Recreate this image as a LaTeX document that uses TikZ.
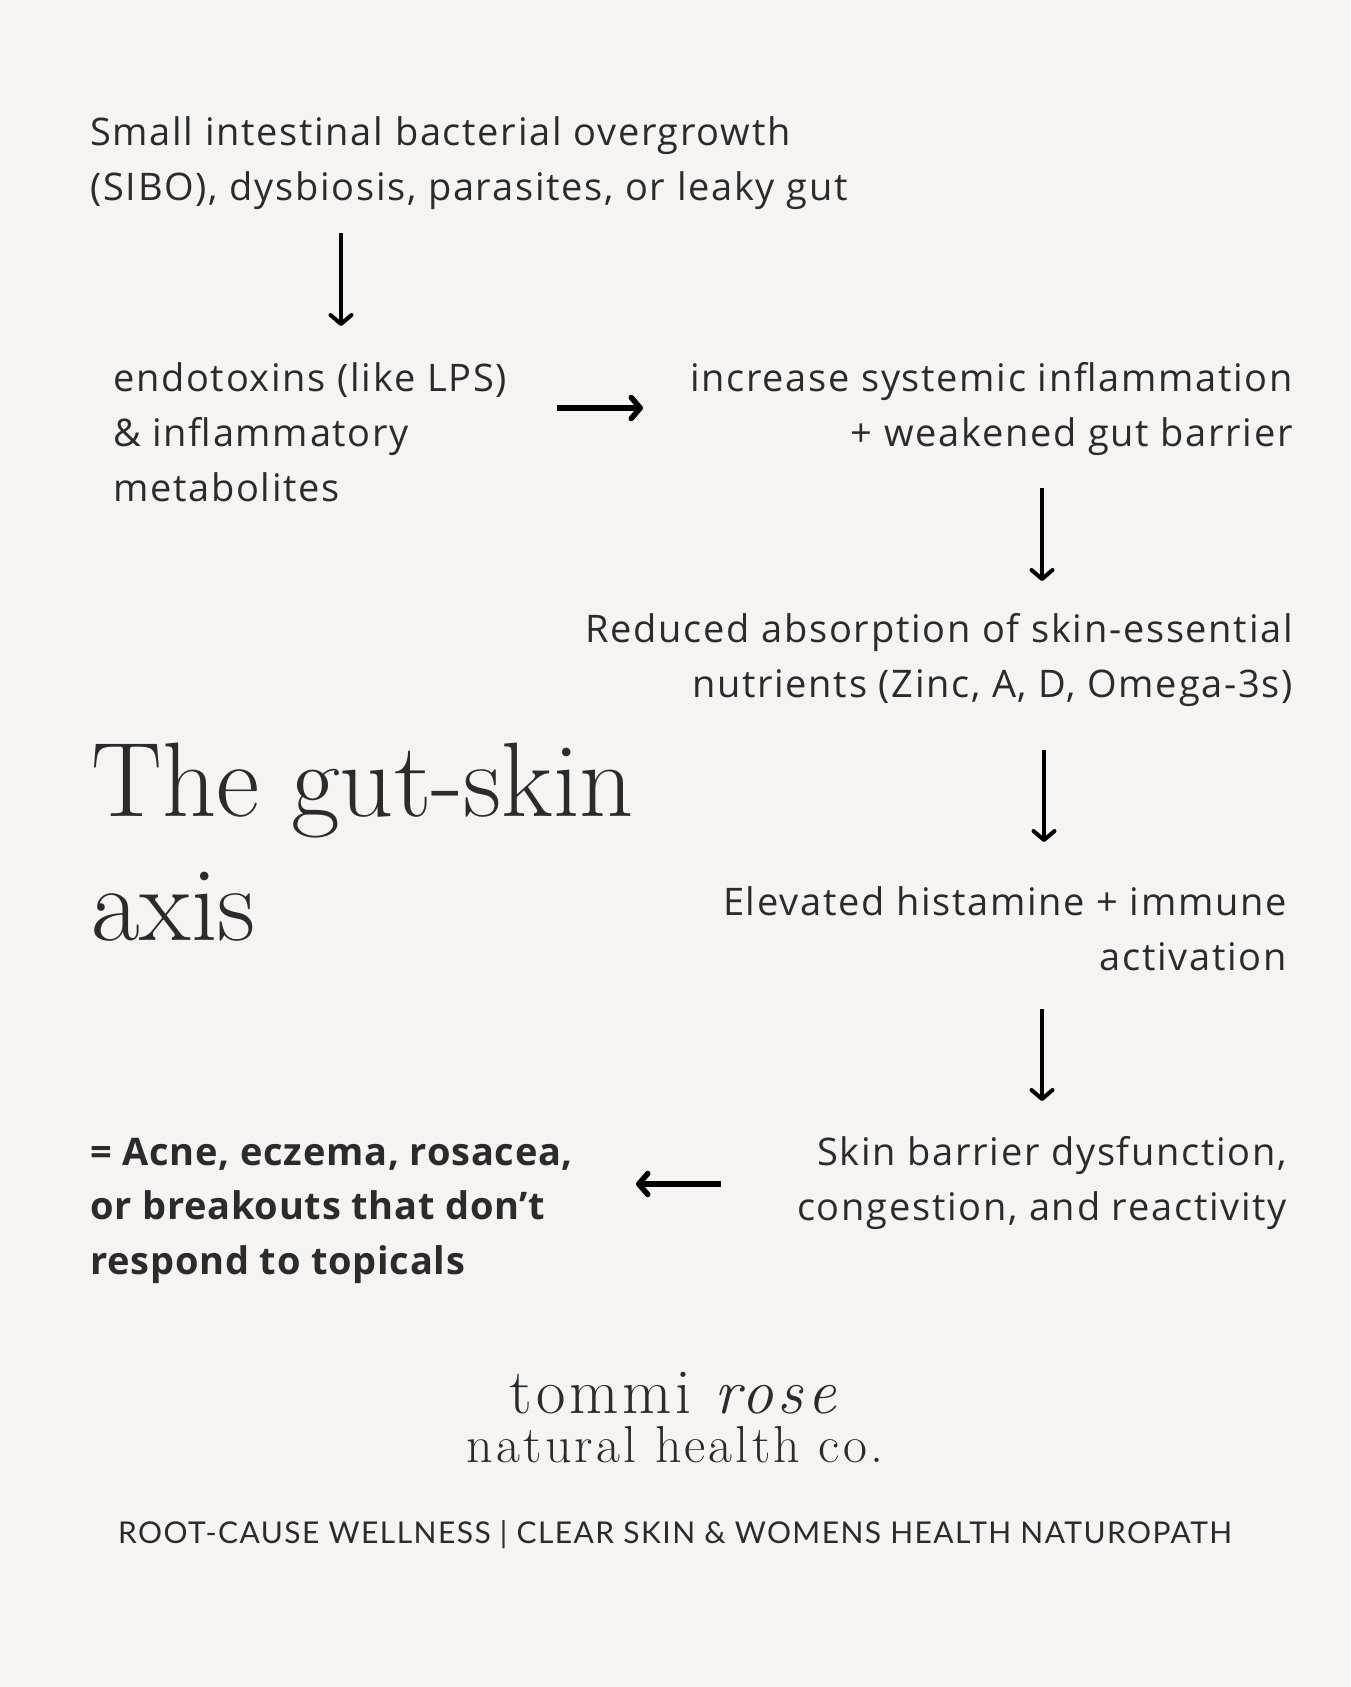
\documentclass[tikz,border=0pt]{standalone}
\usepackage{fontspec}
\usetikzlibrary{arrows.meta}
\newfontfamily\bodyfont[LetterSpace=4.5]{Open Sans}
\newfontfamily\bboldfont[LetterSpace=2]{Open Sans}
\newfontfamily\tagfont[LetterSpace=4.8]{Lato}
\newfontfamily\logofont[LetterSpace=6]{Latin Modern Roman}
\definecolor{bg}{HTML}{F6F3F0}
\definecolor{ink}{HTML}{2B2B2B}
\newcommand\Lb[1]{\vtop{\halign{##\hfil\cr#1\crcr}}}
\newcommand\Rb[1]{\vtop{\halign{\hfil##\cr#1\crcr}}}
\tikzset{
  body/.style={inner sep=0pt, text=ink, font={\bodyfont\fontsize{38}{55}\selectfont}},
  boldbody/.style={inner sep=0pt, text=ink, font={\bboldfont\bfseries\fontsize{38}{54.5}\selectfont}},
  varrow/.style={draw=black, line width=4pt, -{Straight Barb[length=9pt,width=21pt,round]}},
  harrow/.style={draw=black, line width=5.5pt, -{Straight Barb[length=9pt,width=21pt,round]}},
}
\begin{document}
\begin{tikzpicture}[x=1pt,y=-1pt]
\fill[bg] (0,0) rectangle (1350,1687);
\useasboundingbox (0,0) rectangle (1350,1687);

\node[body, anchor=base west] (sibo) at (90,145)
  {\Lb{Small intestinal bacterial overgrowth\cr(SIBO), dysbiosis, parasites, or leaky gut}};
\node[body, anchor=base west] (endo) at (113,391)
  {\Lb{endotoxins (like LPS)\cr\& inflammatory\cr metabolites}};
\node[body, anchor=base east] (infl) at (1293,391)
  {\Rb{increase systemic inflammation\cr+ weakened gut barrier}};
\node[body, anchor=base east] (reduced) at (1293,642)
  {\Rb{Reduced absorption of skin-essential\cr nutrients (Zinc, A, D, Omega-3s)}};
\node[body, anchor=base east] (hist) at (1287,915)
  {\Rb{Elevated histamine + immune\cr activation}};
\node[body, anchor=base east] (skin) at (1287,1165)
  {\Rb{Skin barrier dysfunction,\cr congestion, and reactivity}};
\node[boldbody, anchor=base west] (acne) at (90,1165)
  {\Lb{= Acne, eczema, rosacea,\cr or breakouts that don’t\cr respond to topicals}};

\node[inner sep=0pt, text=ink, anchor=base west,
      font={\rmfamily\fontsize{106}{124}\selectfont}] (title) at (91,816)
  {\Lb{The gut-skin\cr axis}};

\node[inner sep=0pt, text=ink, anchor=base, font={\logofont\fontsize{64}{64}\selectfont}] (logo1) at (675,1413)
  {tommi \textit{rose}};
\node[inner sep=0pt, text=ink, anchor=base, font={\logofont\fontsize{52}{52}\selectfont}] (logo2) at (675,1462)
  {natural health co.};
\node[inner sep=0pt, text=ink, anchor=base, font={\tagfont\fontsize{30}{30}\selectfont}] (tag) at (675,1543)
  {ROOT-CAUSE WELLNESS | CLEAR SKIN \& WOMENS HEALTH NATUROPATH};

\coordinate (a1s) at (341,233); \coordinate (a1e) at (341,326);
\coordinate (a2s) at (557,408); \coordinate (a2e) at (643,408);
\coordinate (a3s) at (1042,488); \coordinate (a3e) at (1042,581);
\coordinate (a4s) at (1044,750); \coordinate (a4e) at (1044,842);
\coordinate (a5s) at (1042,1009); \coordinate (a5e) at (1042,1101);
\coordinate (a6s) at (721,1184); \coordinate (a6e) at (636,1184);
\draw[varrow] (a1s) -- (a1e);
\draw[harrow] (a2s) -- (a2e);
\draw[varrow] (a3s) -- (a3e);
\draw[varrow] (a4s) -- (a4e);
\draw[varrow] (a5s) -- (a5e);
\draw[harrow] (a6s) -- (a6e);
\end{tikzpicture}
\end{document}
